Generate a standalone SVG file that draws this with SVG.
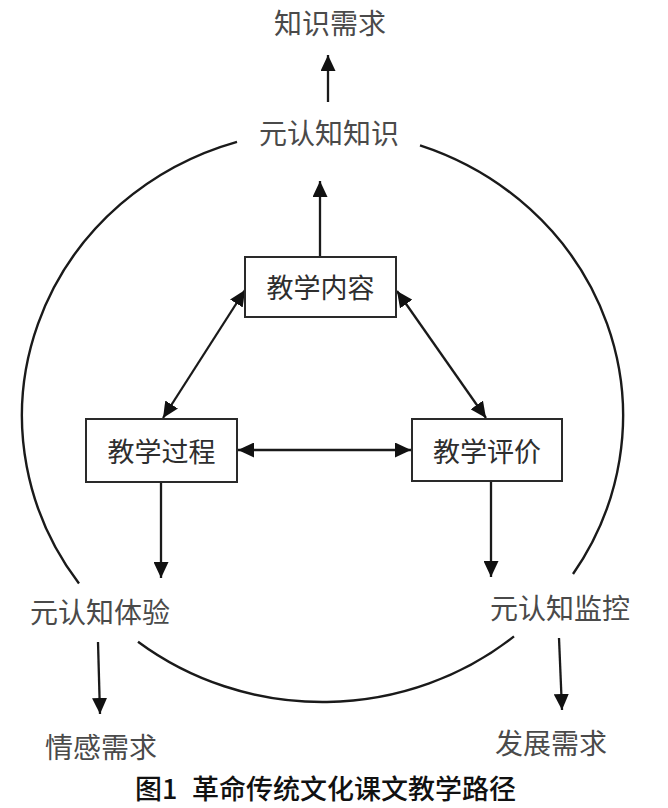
<svg xmlns="http://www.w3.org/2000/svg" width="668" height="808" viewBox="0 0 668 808">
<style>
.bg{fill:#ffffff}
.box{fill:#ffffff;stroke:#2a2a2a;stroke-width:2}
.btxt{font-family:"Noto Sans CJK SC","Noto Sans",sans-serif;font-size:27px;fill:#2e2e2e;text-anchor:middle;dominant-baseline:central}
.lbl{font-family:"Noto Sans CJK SC","Noto Sans",sans-serif;font-size:28px;fill:#4a4a4a;text-anchor:middle;dominant-baseline:central}
.cap{font-family:"Noto Sans CJK SC","Noto Sans",sans-serif;font-size:27px;font-weight:500;fill:#111;dominant-baseline:central}
.ln{fill:none;stroke:#1a1a1a;stroke-width:2.3}
.arc{fill:none;stroke:#1a1a1a;stroke-width:2.4}
</style>
<defs>
<marker id="ah" markerUnits="userSpaceOnUse" markerWidth="16" markerHeight="15" refX="16" refY="7.5" orient="auto-start-reverse" viewBox="0 0 16 15">
<path d="M0,0 L16,7.5 L0,15 z" fill="#111"/>
</marker>
</defs>
<rect class="bg" x="0" y="0" width="668" height="808"/>

<g id="cycle">
<path class="arc" d="M237,141.8 A300.5,286 0 0 0 79,583.6"/>
<path class="arc" d="M420,145.4 A300.5,286 0 0 1 573,574"/>
<path class="arc" d="M138,641.7 A300.5,286 0 0 0 514,636.4"/>
</g>

<g id="connectors">
<line class="ln" x1="320" y1="257" x2="320" y2="181" marker-end="url(#ah)"/>
<line class="ln" x1="328" y1="102" x2="328" y2="55" marker-end="url(#ah)"/>
<line class="ln" x1="163" y1="418" x2="245" y2="290" marker-start="url(#ah)" marker-end="url(#ah)"/>
<line class="ln" x1="397" y1="291" x2="486" y2="418" marker-start="url(#ah)" marker-end="url(#ah)"/>
<line class="ln" x1="238" y1="450" x2="411" y2="450" marker-start="url(#ah)" marker-end="url(#ah)"/>
<line class="ln" x1="161" y1="482" x2="161" y2="578" marker-end="url(#ah)"/>
<line class="ln" x1="491" y1="481" x2="491" y2="577" marker-end="url(#ah)"/>
<line class="ln" x1="98" y1="642" x2="100" y2="714" marker-end="url(#ah)"/>
<line class="ln" x1="559" y1="638" x2="562" y2="710" marker-end="url(#ah)"/>
</g>

<g id="n-content">
<rect class="box" x="245" y="257" width="151" height="60"/>
<text class="btxt" x="320.5" y="286">教学内容</text>
</g>
<g id="n-process">
<rect class="box" x="86" y="419" width="151" height="63"/>
<text class="btxt" x="161.5" y="450">教学过程</text>
</g>
<g id="n-evaluation">
<rect class="box" x="412" y="419" width="150" height="62"/>
<text class="btxt" x="487" y="450">教学评价</text>
</g>

<g id="n-knowledge-need"><text class="lbl" x="330" y="22">知识需求</text></g>
<g id="n-meta-knowledge"><text class="lbl" x="329" y="132">元认知知识</text></g>
<g id="n-meta-experience"><text class="lbl" x="100" y="611">元认知体验</text></g>
<g id="n-meta-monitor"><text class="lbl" x="560" y="607">元认知监控</text></g>
<g id="n-emotion-need"><text class="lbl" x="101" y="746">情感需求</text></g>
<g id="n-develop-need"><text class="lbl" x="551" y="742">发展需求</text></g>

<text class="cap" x="135" y="787">图1</text>
<text class="cap" x="192" y="787">革命传统文化课文教学路径</text>
</svg>
